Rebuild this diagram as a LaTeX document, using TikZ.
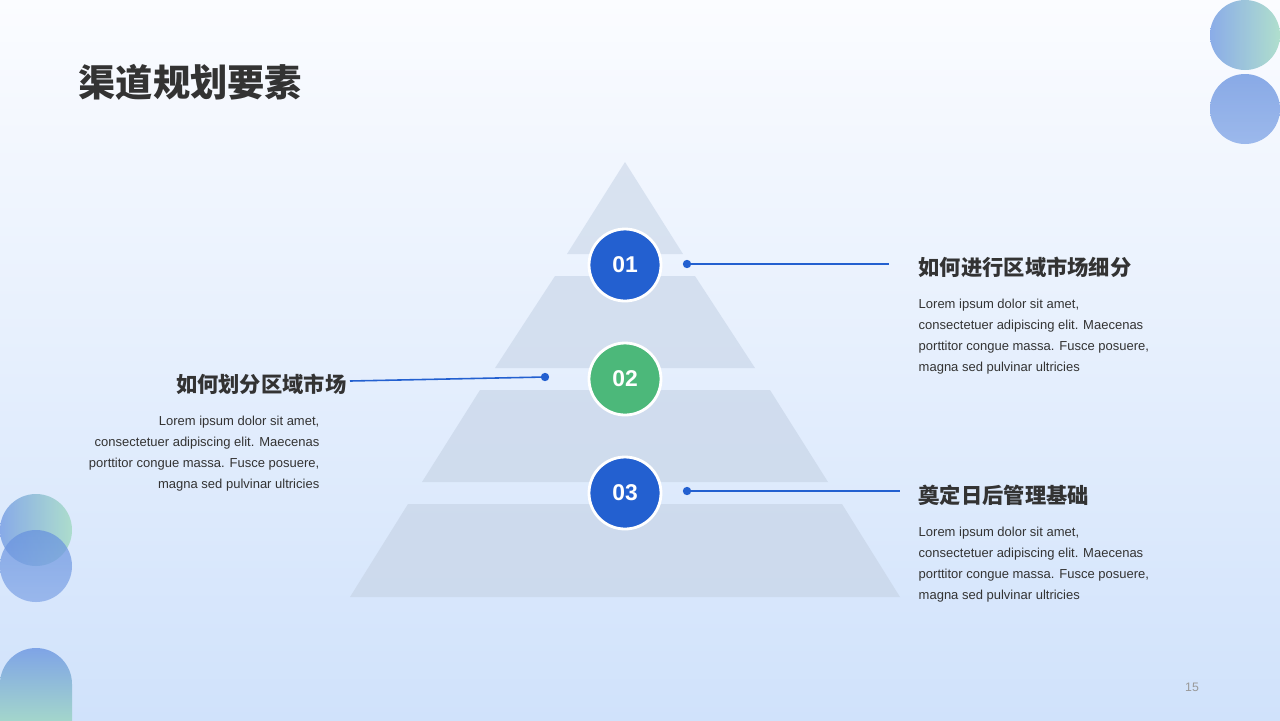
\documentclass[tikz,border=0pt]{standalone}
\usepackage{fontspec}
\setmainfont{Liberation Sans}
\newfontfamily\cjk{Noto Sans CJK SC}
\usetikzlibrary{shadings}
\definecolor{bgtop}{HTML}{FBFCFF}
\definecolor{bgbot}{HTML}{D0E2FB}
\definecolor{nblue}{HTML}{2360D0}
\definecolor{ngreen}{HTML}{4CB87A}
\definecolor{layer}{HTML}{C9D6E8}
\definecolor{txt}{HTML}{333333}
\definecolor{cblue}{HTML}{7FA4E6}
\definecolor{cgreen}{HTML}{A8DCC8}
\tikzset{
 num/.style={circle,draw=white,line width=0.8pt,minimum size=7.2mm,text=white,font=\fontsize{6.5}{7}\selectfont\bfseries,inner sep=0},
 conn/.style={nblue,line width=0.45pt},
 dot/.style={circle,fill=nblue,inner sep=0,minimum size=2.2mm*0.38},
 head/.style={font=\cjk\fontsize{6.05}{6.5}\selectfont\bfseries,text=txt,inner sep=0},
 body/.style={font=\fontsize{3.7}{6}\selectfont,text=txt,inner sep=0,align=left},
}
\begin{document}
\begin{tikzpicture}[x=0.1mm,y=-0.1mm]
\useasboundingbox (0,0) rectangle (1280,720);
\shade[top color=bgtop,bottom color=bgbot] (0,0) rectangle (1280,720);
% decorative circles
\shade[left color=cblue,right color=cgreen,opacity=0.9] (1245,35) circle (35);
\shade[top color=nblue!70,bottom color=cblue,opacity=0.75] (1245,109) circle (35);
\shade[left color=cblue,right color=cgreen,opacity=0.9] (36,530) circle (36);
\shade[top color=nblue!70,bottom color=cblue,opacity=0.7] (36,566) circle (36);
\begin{scope}
\clip (0,0) rectangle (1280,720);
\shade[top color=cblue,bottom color=cgreen] (0,730) -- (0,684) arc (180:360:36) -- (72,730) -- cycle;
\end{scope}
% title
\node[anchor=west,font=\cjk\fontsize{10.6}{11}\selectfont\bfseries,text=txt,inner sep=0] (title) at (78,82) {渠道规划要素};
% pyramid
\fill[layer,opacity=0.6] (625,162) -- (683,254) -- (567,254) -- cycle;
\fill[layer,opacity=0.65] (555,276) -- (695,276) -- (755,368) -- (495,368) -- cycle;
\fill[layer,opacity=0.7] (480,390) -- (770,390) -- (828,482) -- (422,482) -- cycle;
\fill[layer,opacity=0.75] (408,504) -- (842,504) -- (900,597) -- (350,597) -- cycle;
% numbers
\node[num,fill=nblue] (n1) at (625,265) {01};
\node[num,fill=ngreen] (n2) at (625,379) {02};
\node[num,fill=nblue] (n3) at (625,493) {03};
% connectors
\node[dot] (d1) at (687,264) {};
\coordinate (e1) at (889,264);
\draw[conn] (d1.center) -- (e1);
\node[dot] (d2) at (545,377) {};
\coordinate (e2) at (350,381);
\draw[conn] (d2.center) -- (e2);
\node[dot] (d3) at (687,491) {};
\coordinate (e3) at (900,491);
\draw[conn] (d3.center) -- (e3);
% texts right
\node[head,anchor=west] (h1) at (918,267) {如何进行区域市场细分};
\node[body,anchor=north west] (b1) at (918,298) {Lorem ipsum dolor sit amet,\\consectetuer adipiscing elit. Maecenas\\porttitor congue massa. Fusce posuere,\\magna sed pulvinar ultricies};
\node[head,anchor=west] (h3) at (918,495) {奠定日后管理基础};
\node[body,anchor=north west] (b3) at (918,526) {Lorem ipsum dolor sit amet,\\consectetuer adipiscing elit. Maecenas\\porttitor congue massa. Fusce posuere,\\magna sed pulvinar ultricies};
% left
\node[head,anchor=east] (h2) at (347,384) {如何划分区域市场};
\node[body,anchor=north east,align=right] (b2) at (320,415) {Lorem ipsum dolor sit amet,\\consectetuer adipiscing elit. Maecenas\\porttitor congue massa. Fusce posuere,\\magna sed pulvinar ultricies};
\node[font=\fontsize{3.5}{4}\selectfont,text=gray!80,inner sep=0] (pg) at (1192,687) {15};
\end{tikzpicture}
\end{document}
